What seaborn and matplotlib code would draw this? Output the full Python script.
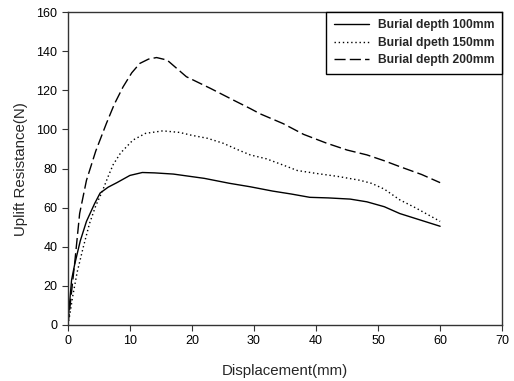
import numpy as np
import pandas as pd
import seaborn as sns
from matplotlib import pyplot as plt

# Displacement (mm) and uplift resistance (N)
disp_100 = [0, 0.3, 0.6, 1.1, 2.0, 3.0, 4.3, 5.2, 6.5, 7.9, 10.0, 12.0, 14.0, 17.0, 22.0, 26.0, 29.4, 33.0, 36.0, 39.0, 42.0, 45.5, 48.2, 51.0, 53.5, 56.0, 60.0]
res_100 = [0, 12, 23, 31, 43, 53, 62, 67.5, 70.5, 72.8, 76.5, 78, 77.8, 77.2, 75, 72.5, 70.7, 68.5, 67, 65.3, 65.0, 64.4, 63, 60.5, 57, 54.5, 50.5]

disp_150 = [0, 0.3, 0.8, 1.5, 2.5, 3.5, 4.5, 5.5, 6.5, 7.3, 8.5, 10.5, 12.5, 15.3, 18.0, 20.0, 22.5, 25.0, 27.5, 29.4, 32.0, 34.7, 37.0, 40.1, 43.5, 47.1, 49.0, 51.0, 53.5, 56.0, 60.0]
res_150 = [0, 5, 15, 27, 40, 52, 61, 68, 76, 82, 88, 94.6, 98, 99.3, 98.5, 97, 95.5, 93, 89.5, 87, 85, 81.8, 79, 77.5, 76, 74, 72.4, 69.5, 64, 60, 53]

disp_200 = [0, 0.3, 0.7, 1.1, 1.9, 3.0, 4.5, 6.2, 7.5, 8.9, 10.3, 11.6, 13.0, 14.3, 16.0, 19.1, 23.0, 26.7, 29.4, 31.0, 34.7, 38.0, 41.7, 45.0, 48.2, 51.0, 53.5, 57.0, 60.0]
res_200 = [0, 8, 20, 31.6, 57, 74, 89, 103, 113, 121.8, 129, 133.8, 136, 136.8, 135.5, 127, 121, 115, 110.7, 108, 103, 97.5, 93, 89.5, 87, 84, 81, 77, 72.8]

labels = ["Burial depth 100mm", "Burial dpeth 150mm", "Burial depth 200mm"]

frames = []
for lab, xs, ys in zip(labels, [disp_100, disp_150, disp_200], [res_100, res_150, res_200]):
    frames.append(pd.DataFrame({"disp": xs, "res": ys, "series": lab}))
df = pd.concat(frames, ignore_index=True)

sns.set_style("ticks")
plt.rcParams["font.family"] = ["Liberation Sans", "DejaVu Sans"]

fig, ax = plt.subplots(figsize=(5.14, 3.81), dpi=100)
fig.subplots_adjust(left=0.132, right=0.977, top=0.968, bottom=0.147)

sns.lineplot(
    data=df, x="disp", y="res", hue="series", style="series",
    palette=["black"] * 3,
    dashes={labels[0]: "", labels[1]: (1, 2), labels[2]: (8, 3)},
    linewidth=1.0, sort=False, estimator=None, ax=ax,
)

ax.set_xlim(0, 70)
ax.set_ylim(0, 160)
ax.set_xticks(np.arange(0, 71, 10))
ax.set_yticks(np.arange(0, 161, 20))
ax.tick_params(labelsize=9, length=4, width=0.8, colors="#333333", labelcolor="black")
for sp in ax.spines.values():
    sp.set_visible(True)
    sp.set_color("#333333")
    sp.set_linewidth(1.0)

ax.set_xlabel("Displacement(mm)", fontsize=10.8, labelpad=12)
ax.set_ylabel("Uplift Resistance(N)", fontsize=10.8, labelpad=6)

leg = ax.legend(
    loc="upper right", borderaxespad=0, fancybox=False, framealpha=1,
    edgecolor="black", handlelength=2.9, handletextpad=0.8,
    prop={"weight": "bold", "size": 8.7},
    title=None, labelspacing=0.45, borderpad=0.6,
)
leg.get_frame().set_linewidth(1.0)

fig.savefig("out.png", dpi=100)
